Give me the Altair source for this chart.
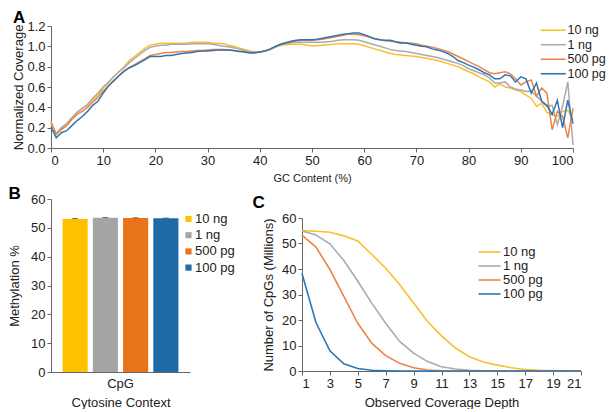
import altair as alt
import pandas as pd

FONT = "Liberation Sans"
samples = ["10 ng", "1 ng", "500 pg", "100 pg"]
line_colors = ["#F8C02E", "#ABABAB", "#EE8446", "#2E76B3"]
bar_colors = ["#FFC000", "#A5A5A5", "#E8731A", "#1F6AA5"]

# Panel A: normalized coverage vs GC content
gc = list(range(0, 101))
cov_10ng = [0.26, 0.13, 0.19, 0.23, 0.29, 0.35, 0.39, 0.42, 0.47, 0.52,
            0.59, 0.64, 0.70, 0.75, 0.80, 0.86, 0.90, 0.94, 0.98, 1.01,
            1.02, 1.03, 1.03, 1.03, 1.03, 1.03, 1.03, 1.04, 1.04, 1.04,
            1.04, 1.03, 1.03, 1.025, 1.01, 1.0, 0.985, 0.97, 0.955, 0.945,
            0.945, 0.955, 0.965, 0.99, 1.01, 1.015, 1.02, 1.02, 1.02, 1.01,
            1.005, 1.005, 1.01, 1.015, 1.02, 1.025, 1.025, 1.025, 1.025, 1.02,
            1.005, 0.99, 0.975, 0.96, 0.945, 0.93, 0.92, 0.915, 0.91, 0.905,
            0.90, 0.89, 0.88, 0.87, 0.86, 0.845, 0.83, 0.815, 0.80, 0.775,
            0.75, 0.73, 0.70, 0.675, 0.65, 0.60, 0.63, 0.60, 0.59, 0.57,
            0.555, 0.52, 0.49, 0.41, 0.44, 0.35, 0.33, 0.31, 0.36, 0.37,
            0.28]
cov_1ng = [0.24, 0.14, 0.20, 0.24, 0.30, 0.35, 0.39, 0.43, 0.49, 0.54,
           0.60, 0.65, 0.70, 0.75, 0.79, 0.84, 0.88, 0.92, 0.96, 0.99,
           1.00, 1.01, 1.01, 1.02, 1.02, 1.02, 1.02, 1.025, 1.025, 1.025,
           1.025, 1.02, 1.01, 1.0, 0.995, 0.985, 0.975, 0.96, 0.95, 0.945,
           0.945, 0.955, 0.97, 0.995, 1.015, 1.025, 1.035, 1.04, 1.04, 1.04,
           1.04, 1.04, 1.04, 1.045, 1.05, 1.06, 1.065, 1.065, 1.065, 1.06,
           1.045, 1.03, 1.015, 1.0, 0.985, 0.97, 0.96, 0.955, 0.95, 0.94,
           0.93, 0.92, 0.91, 0.90, 0.89, 0.875, 0.86, 0.845, 0.83, 0.81,
           0.78, 0.76, 0.74, 0.72, 0.69, 0.64, 0.64, 0.65, 0.60, 0.58,
           0.57, 0.555, 0.56, 0.51, 0.46, 0.41, 0.42, 0.23, 0.41, 0.65,
           0.03]
cov_500pg = [0.25, 0.14, 0.18, 0.22, 0.28, 0.33, 0.36, 0.40, 0.45, 0.50,
             0.56, 0.61, 0.66, 0.71, 0.75, 0.79, 0.82, 0.85, 0.88, 0.91,
             0.92, 0.93, 0.94, 0.94, 0.945, 0.95, 0.95, 0.955, 0.96, 0.96,
             0.965, 0.97, 0.97, 0.97, 0.965, 0.96, 0.955, 0.95, 0.94, 0.94,
             0.945, 0.955, 0.97, 1.0, 1.02, 1.035, 1.045, 1.055, 1.06, 1.06,
             1.06, 1.065, 1.07, 1.08, 1.09, 1.10, 1.11, 1.12, 1.12, 1.115,
             1.105, 1.09, 1.075, 1.065, 1.055, 1.05, 1.045, 1.04, 1.035, 1.03,
             1.025, 1.01, 1.0, 0.99, 0.98, 0.965, 0.95, 0.925, 0.90, 0.875,
             0.85, 0.825, 0.80, 0.77, 0.74, 0.73, 0.74, 0.75, 0.73, 0.68,
             0.62, 0.65, 0.67, 0.51, 0.59, 0.54, 0.18, 0.36, 0.31, 0.10,
             0.39]
cov_100pg = [0.205, 0.10, 0.15, 0.17, 0.22, 0.27, 0.31, 0.36, 0.42, 0.46,
             0.54, 0.61, 0.66, 0.71, 0.76, 0.79, 0.81, 0.84, 0.87, 0.90,
             0.90, 0.90, 0.91, 0.91, 0.92, 0.93, 0.935, 0.94, 0.95, 0.955,
             0.955, 0.96, 0.965, 0.965, 0.965, 0.96, 0.95, 0.945, 0.935, 0.935,
             0.945, 0.955, 0.975, 1.0, 1.02, 1.035, 1.05, 1.06, 1.065, 1.065,
             1.065, 1.07, 1.08, 1.09, 1.10, 1.11, 1.12, 1.125, 1.13, 1.13,
             1.115, 1.095, 1.075, 1.065, 1.06, 1.06, 1.045, 1.03, 1.035, 1.02,
             1.01, 1.0, 0.995, 0.975, 0.965, 0.95, 0.93, 0.90, 0.86, 0.84,
             0.815, 0.795, 0.77, 0.74, 0.72, 0.68, 0.68, 0.72, 0.71, 0.65,
             0.70, 0.68, 0.54, 0.64, 0.46, 0.42, 0.33, 0.47, 0.20, 0.47,
             0.24]

# Panel B: CpG methylation
context = ["CpG"]
meth = [53.1, 53.5, 53.4, 53.3]
meth_err = [0.15, 0.1, 0.1, 0.1]

# Panel C: CpGs vs observed coverage depth
depth = list(range(1, 22))
cpg_10ng = [55.1, 54.8, 54.4, 53.0, 51.0, 45.7, 40.3, 33.9, 26.7, 19.4,
            13.8, 9.0, 5.6, 3.5, 2.3, 1.3, 0.6, 0.3, 0.15, 0.05, 0.0]
cpg_1ng = [54.9, 53.3, 49.9, 43.3, 35.2, 26.6, 18.7, 11.6, 7.0, 3.7,
           1.7, 0.8, 0.3, 0.1, 0.05, 0.0, 0.0, 0.0, 0.0, 0.0, 0.0]
cpg_500pg = [53.3, 48.6, 39.8, 29.3, 18.7, 10.9, 6.0, 3.0, 1.3, 0.4,
             0.1, 0.0, 0.0, 0.0, 0.0, 0.0, 0.0, 0.0, 0.0, 0.0, 0.0]
cpg_100pg = [38.2, 19.0, 7.9, 2.8, 1.0, 0.3, 0.1, 0.0, 0.0, 0.0,
             0.0, 0.0, 0.0, 0.0, 0.0, 0.0, 0.0, 0.0, 0.0, 0.0, 0.0]

dfA = pd.concat([
    pd.DataFrame({"gc": gc, "cov": v, "sample": s, "k": i})
    for i, (s, v) in enumerate(zip(samples, [cov_10ng, cov_1ng, cov_500pg, cov_100pg]))
])
dfB = pd.DataFrame({"context": context * 4, "sample": samples, "meth": meth,
                    "lo": [m - e for m, e in zip(meth, meth_err)],
                    "hi": [m + e for m, e in zip(meth, meth_err)]})
dfC = pd.concat([
    pd.DataFrame({"depth": depth, "cpg": v, "sample": s})
    for s, v in zip(samples, [cpg_10ng, cpg_1ng, cpg_500pg, cpg_100pg])
])

line_color = alt.Scale(domain=samples, range=line_colors)
bar_color = alt.Scale(domain=samples, range=bar_colors)

def letter(t, dx, dy):
    return alt.TitleParams(t, anchor="start", frame="bounds", fontSize=17, fontWeight="bold",
                           font=FONT, color="#000", dx=dx, dy=dy, offset=0)

# ---- Panel A
chartA = alt.Chart(dfA, title=letter("A", 0, 6.5)).mark_line(strokeWidth=1.5).encode(
    x=alt.X("gc:Q", scale=alt.Scale(domain=[0, 100], nice=False),
            axis=alt.Axis(values=list(range(0, 101, 10)), title="GC Content (%)",
                          titleFontSize=11, titlePadding=5, labelPadding=2)),
    y=alt.Y("cov:Q", scale=alt.Scale(domain=[0, 1.2], nice=False),
            axis=alt.Axis(values=[0, 0.2, 0.4, 0.6, 0.8, 1.0, 1.2], format=".1f",
                          title="Normalized Coverage", titlePadding=1, labelPadding=2)),
    color=alt.Color("sample:N", scale=line_color, sort=samples,
                    legend=alt.Legend(orient="none", legendX=496, legendY=-2, title=None,
                                      symbolType="M-2.5,0L2.5,0", symbolSize=100,
                                      symbolStrokeWidth=1.6, labelFontSize=12.5,
                                      labelOffset=8, rowPadding=1.5)),
    order="k:Q",
).properties(width=522, height=122)

# ---- Panel B
def yB(field):
    return alt.Y(field, scale=alt.Scale(domain=[0, 60], nice=False),
                 axis=alt.Axis(values=list(range(0, 61, 10)), title="Methylation %",
                               titlePadding=9, labelPadding=2))

baseB = alt.Chart(dfB).encode(
    x=alt.X("context:N", scale=alt.Scale(paddingOuter=0.1, paddingInner=0),
            axis=alt.Axis(title="Cytosine Context", labelAngle=0, ticks=False, labelPadding=5,
                          titlePadding=6)),
    xOffset=alt.XOffset("sample:N", sort=samples, scale=alt.Scale(paddingInner=0.17, paddingOuter=0)),
)
barsB = baseB.mark_bar().encode(
    y=yB("meth:Q"),
    color=alt.Color("sample:N", scale=bar_color, sort=samples,
                    legend=alt.Legend(orient="none", legendX=131, legendY=13.5, title=None,
                                      symbolType="square", symbolSize=38, labelFontSize=13,
                                      labelOffset=0, rowPadding=2.2)),
)
errB = baseB.mark_rule(color="#444", strokeWidth=1).encode(y=yB("lo:Q"), y2="hi:Q")
capB = baseB.mark_tick(color="#444", thickness=1, size=6).encode(y=yB("hi:Q"))
chartB = alt.layer(barsB, errB, capB, title=letter("B", 0, 10)).properties(width=139, height=173)

# ---- Panel C
chartC = alt.Chart(dfC, title=letter("C", -10, 13)).mark_line(strokeWidth=1.6).encode(
    x=alt.X("depth:Q", scale=alt.Scale(domain=[1, 21], nice=False),
            axis=alt.Axis(values=list(range(1, 22, 2)), title="Observed Coverage Depth",
                          titlePadding=6, labelPadding=2)),
    y=alt.Y("cpg:Q", scale=alt.Scale(domain=[0, 60], nice=False, range=[172, 19]),
            axis=alt.Axis(values=list(range(0, 61, 10)), title="Number of CpGs (Millions)",
                          titlePadding=6, labelPadding=2)),
    color=alt.Color("sample:N", scale=line_color, sort=samples,
                    legend=alt.Legend(orient="none", legendX=181, legendY=46.5, title=None,
                                      symbolType="M-2.2,0L2.2,0", symbolSize=100,
                                      symbolStrokeWidth=1.6, labelFontSize=13,
                                      labelOffset=7, rowPadding=0)),
).properties(width=279, height=172)

bottom = alt.hconcat(chartB, chartC, spacing=17).resolve_scale(color="independent")
chart = alt.vconcat(chartA, bottom, spacing=2).resolve_scale(color="independent").properties(
    padding={"left": 0, "top": 0, "right": 0, "bottom": 0}
).configure_axis(
    labelFont=FONT, titleFont=FONT, labelFontSize=13, titleFontSize=13,
    titleFontWeight="normal", labelColor="#222", titleColor="#222",
    domainColor="#666", tickColor="#666", tickSize=4, grid=False,
).configure_legend(
    labelFont=FONT, labelColor="#222", padding=0,
).configure_view(stroke=None)

chart.save("out.html", embed_options={"renderer": "svg", "actions": False})
